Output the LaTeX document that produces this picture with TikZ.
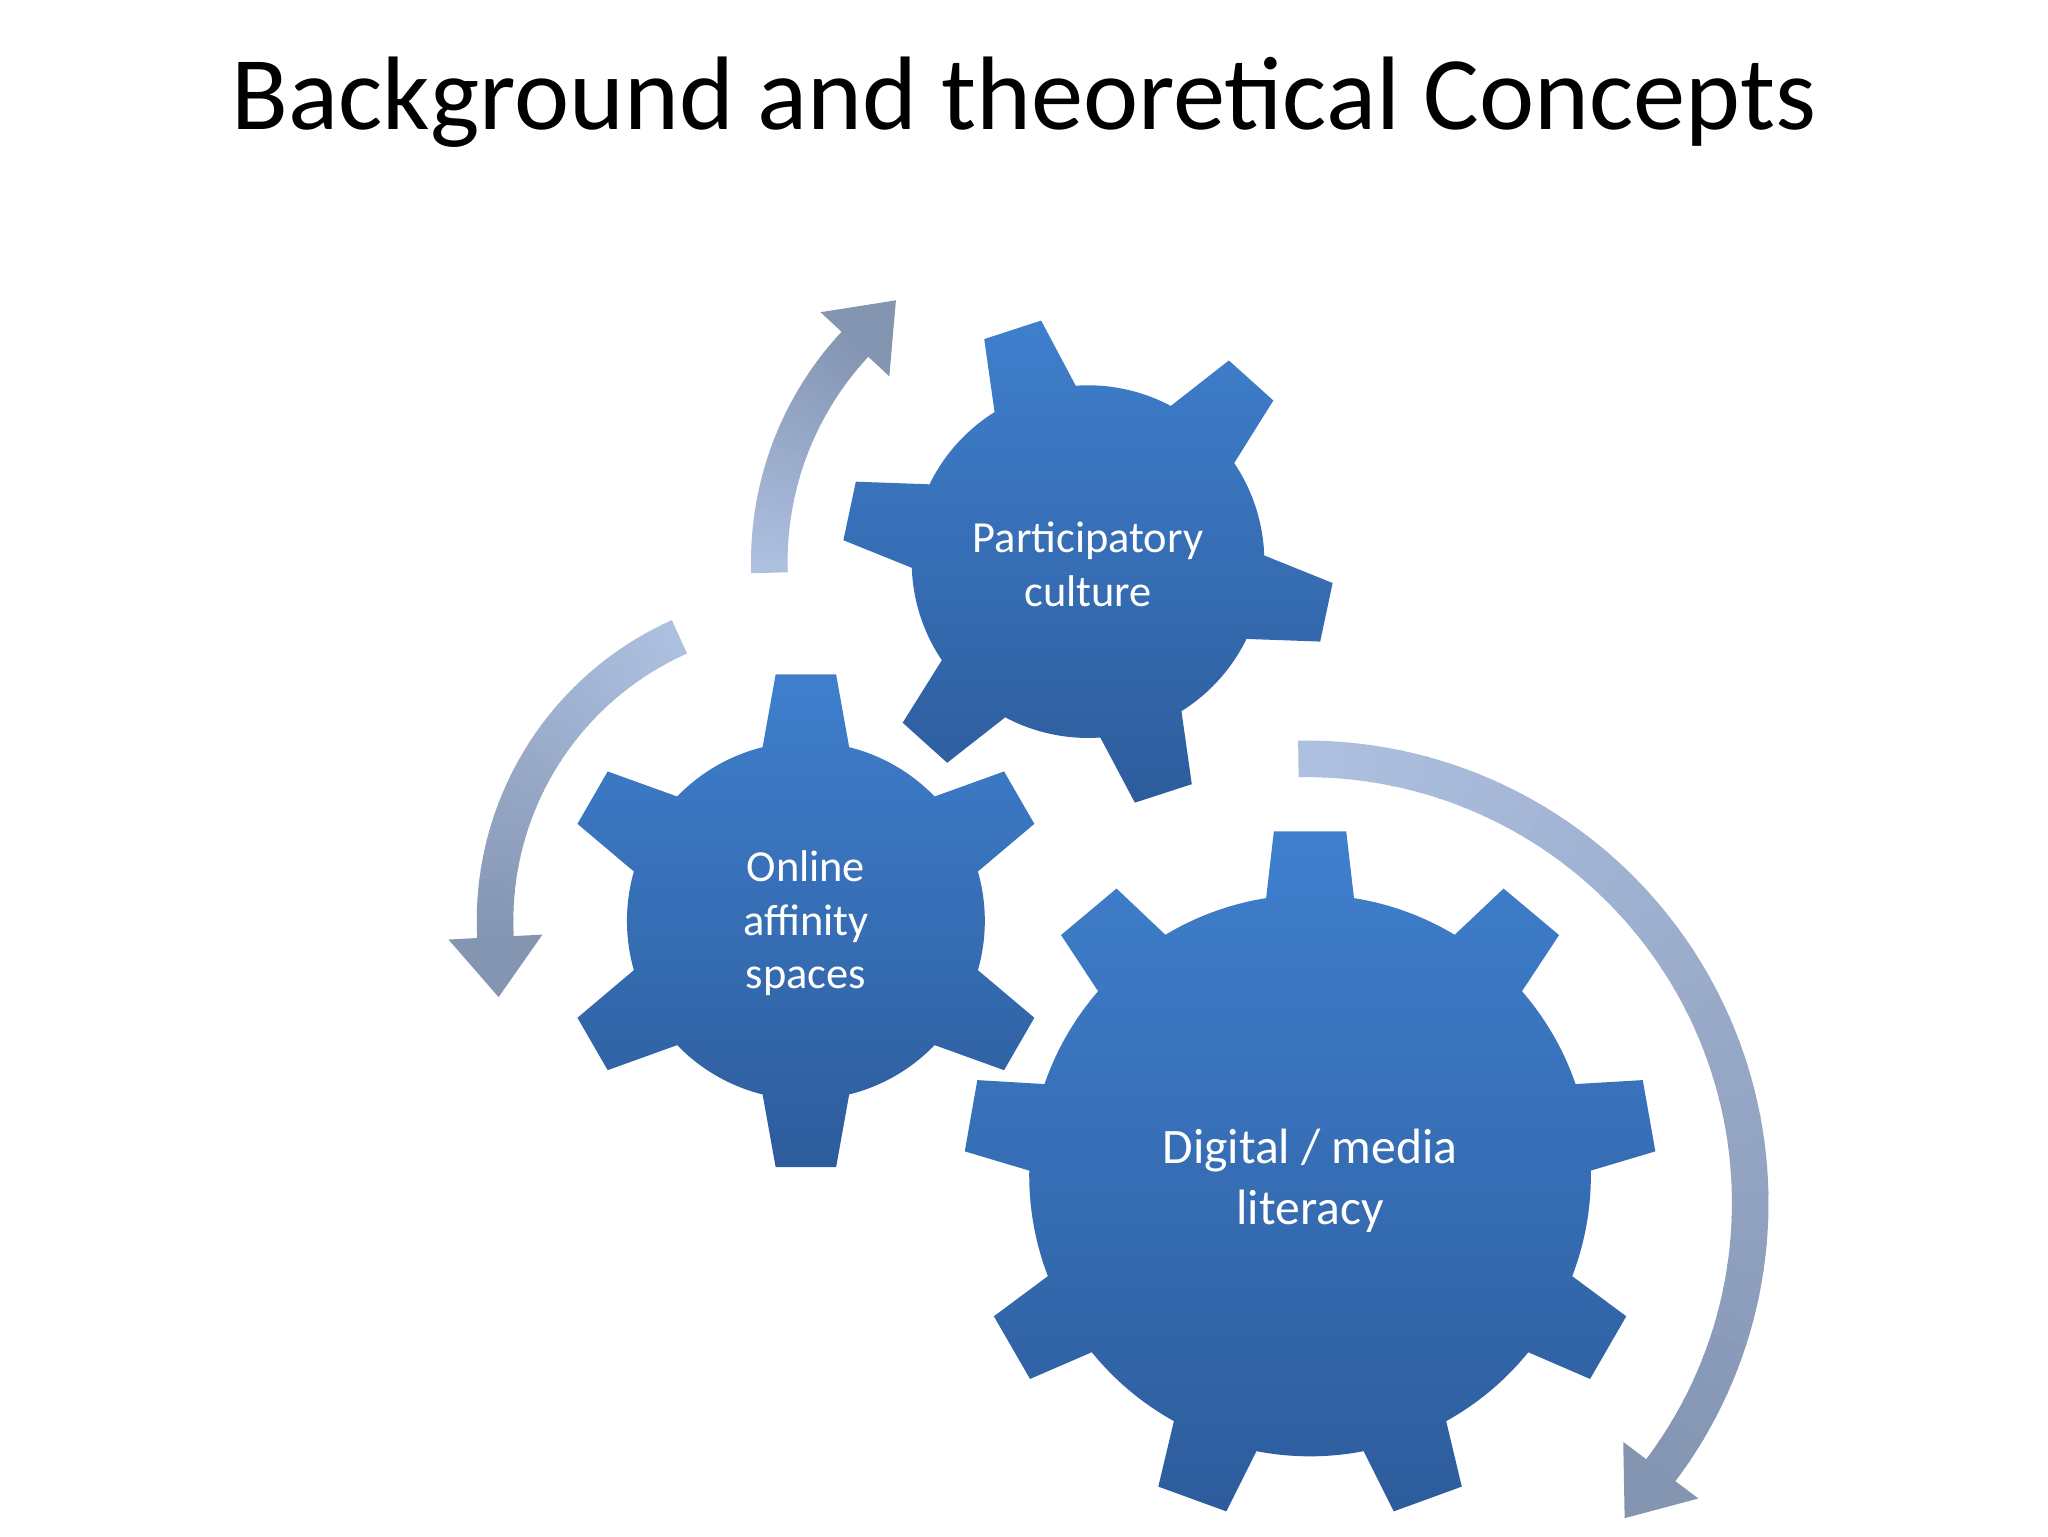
\documentclass[tikz,border=0pt]{standalone}
\usepackage{fontspec}
\setmainfont{Carlito}
\definecolor{gearT}{HTML}{3F7FCD}
\definecolor{gearB}{HTML}{2D5C9C}
\definecolor{arrL}{HTML}{AEC0E0}
\definecolor{arrD}{HTML}{8495B2}
\newcommand\mygear[8]{%
\begin{scope}[shift={(#1,#2)}]
\pgfmathsetmacro\st{360/#5}
\shade[top color=gearT,bottom color=gearB] (#6-#7:#3)
 \foreach \i [evaluate=\i as \a using #6+(\i-1)*\st] in {1,...,#5}{
  -- (\a-#8:#4) -- (\a+#8:#4) -- (\a+#7:#3)
  arc[start angle=\a+#7, end angle=\a+\st-#7, radius=#3] } -- cycle;
\end{scope}}
\newcommand\gradarc[6]{%
\foreach \k in {0,...,39}{%
 \pgfmathsetmacro\sa{#4+(#5-#4)*\k/40}%
 \pgfmathsetmacro\ea{#4+(#5-#4)*(\k+1.1)/40}%
 \pgfmathsetmacro\p{100-2.5*\k}%
 \draw[line width=28, draw=arrL!\p!arrD] ([shift={(\sa:#3)}]#1,#2) arc[start angle=\sa,end angle=\ea,radius=#3];}
\begin{scope}[shift={(#1,#2)},rotate=#5]
\fill[arrD] (#3-36,0) -- (#3+36,0) -- (#3,#6*46) -- cycle;
\end{scope}}
\begin{document}
\begin{tikzpicture}[x=1pt,y=1pt,
  lbl/.style={text=white,align=center,font=\fontsize{34}{41}\selectfont}]
\useasboundingbox (0,0) rectangle (1568,1176);
\fill[white] (0,0) rectangle (1568,1176);
\node[font=\fontsize{80}{90}\selectfont] (title) at (784,1098) {Background and theoretical Concepts};
% arrows
\gradarc{833}{746}{244}{182}{137}{-1}
\gradarc{617}{471}{238}{114}{183}{1}
\gradarc{1000}{255}{340}{91}{-37}{-1}
% gears
\mygear{833}{746}{135}{188}{6}{-12}{14}{7}
\mygear{617}{471}{137}{190}{6}{30}{14}{7}
\mygear{1003}{276}{215}{265}{9}{10}{9}{6}
\node[lbl] (pc) at (833,744) {Participatory\\culture};
\node[lbl] (oa) at (617,469) {Online\\affinity\\spaces};
\node[lbl,font=\fontsize{38}{47}\selectfont] (dm) at (1003,272) {Digital / media\\literacy};
\end{tikzpicture}
\end{document}
